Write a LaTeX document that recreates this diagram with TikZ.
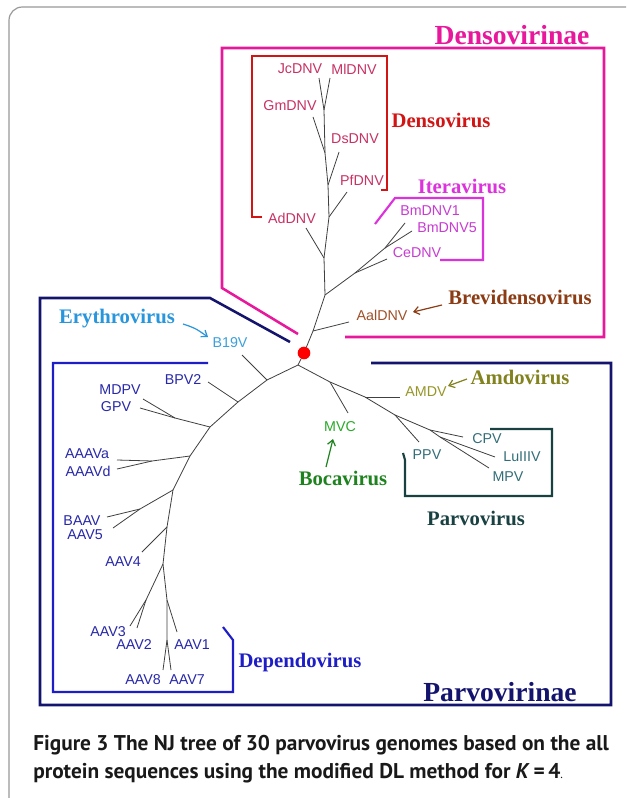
\documentclass[tikz,border=0pt]{standalone}
\usepackage{fontspec}
\setmainfont{Liberation Serif}
\setsansfont{Liberation Sans}
\newfontfamily\capfont{PT Sans}
\usetikzlibrary{arrows.meta}
\definecolor{cMag}{RGB}{232,24,156}
\definecolor{cNavy}{RGB}{20,20,110}
\definecolor{cBlue}{RGB}{30,30,200}
\definecolor{cRed}{RGB}{210,20,20}
\definecolor{cVio}{RGB}{220,50,220}
\definecolor{cSlate}{RGB}{25,65,65}
\definecolor{lDen}{RGB}{200,50,100}
\definecolor{lIte}{RGB}{200,60,210}
\definecolor{lBrev}{RGB}{160,80,40}
\definecolor{gBrev}{RGB}{140,60,20}
\definecolor{lEry}{RGB}{60,160,220}
\definecolor{gEry}{RGB}{40,150,220}
\definecolor{lDep}{RGB}{40,40,170}
\definecolor{lAmd}{RGB}{150,150,40}
\definecolor{gAmd}{RGB}{130,130,30}
\definecolor{lMvc}{RGB}{40,170,40}
\definecolor{gBoc}{RGB}{30,130,30}
\definecolor{lPar}{RGB}{50,110,120}
\begin{document}
\begin{tikzpicture}[x=0.75pt,y=-0.75pt,
  leaf/.style={font=\sffamily\fontsize{10.7}{12}\selectfont, inner sep=0pt},
  grp/.style={font=\bfseries\fontsize{15.5}{18}\selectfont, inner sep=0pt},
  big/.style={font=\bfseries\fontsize{20.7}{24}\selectfont, inner sep=0pt},
  br/.style={draw=black!75, line width=0.6pt},
  gbox/.style={line width=1.6pt, line join=miter},
  arr/.style={-{Straight Barb[length=4pt,width=6pt]}, line width=0.9pt},
  capt/.style={anchor=west, inner sep=0pt, font=\capfont\bfseries\fontsize{16}{18}\selectfont, text=black!90}]
\useasboundingbox (0,0) rectangle (626,798);
\fill[white] (0,0) rectangle (626,798);
\begin{scope}
\clip (0,0) rectangle (626,798);
\draw[black!40, line width=0.9pt, rounded corners=10pt] (9,7) rectangle (660,812);
\end{scope}

% group boxes
\draw[gbox, cMag, line width=1.9pt] (298,334) -- (222,288) -- (222,48) -- (604,48) -- (604,337) -- (345,337);
\draw[gbox, cNavy, line width=1.9pt] (290,342) -- (210,298) -- (40,298) -- (40,705) -- (611,705) -- (611,363) -- (371,363);
\draw[gbox, cBlue] (208,363) -- (53,363) -- (53,692) -- (233,692) -- (233,640) -- (223,627);
\draw[gbox, cRed] (262,217) -- (252,217) -- (252,56) -- (387,56) -- (387,190) -- (381,190);
\draw[gbox, cVio] (375,224) -- (395,198) -- (483,198) -- (483,260) -- (440,260);
\draw[gbox, cSlate] (490,429) -- (552,429) -- (552,496) -- (405,496) -- (405,460) -- (403,453);

% Densovirinae tree coordinates
\coordinate (dA) at (313,331);
\coordinate (aalE) at (349,322);
\coordinate (dB) at (325,295);
\coordinate (dC) at (355,273);
\coordinate (dD) at (385,248);
\coordinate (bmaE) at (405,223);
\coordinate (bmbE) at (412,231);
\coordinate (ceE) at (387,259);
\coordinate (t5) at (324,258);
\coordinate (adE) at (306,228);
\coordinate (t4) at (329,217);
\coordinate (pfE) at (347,192);
\coordinate (t3) at (328,185);
\coordinate (dsE) at (339,152);
\coordinate (t2) at (325,153);
\coordinate (gmE) at (313,117);
\coordinate (t1) at (324,110);
\coordinate (jcE) at (319,78);
\coordinate (mlE) at (330,78);

% Parvovirinae tree coordinates
\coordinate (pr) at (298,365);
\coordinate (l1) at (267,380);
\coordinate (l2) at (238,402);
\coordinate (l3) at (210,427);
\coordinate (l4) at (190,456);
\coordinate (l5) at (173,490);
\coordinate (l6) at (167,527);
\coordinate (l7) at (163,564);
\coordinate (bE) at (242,355);
\coordinate (bpE) at (208,382);
\coordinate (gJ) at (175,418);
\coordinate (gpE) at (140,408);
\coordinate (mdE) at (143,399);
\coordinate (aJ) at (152,461);
\coordinate (aaE) at (117,460);
\coordinate (adJE) at (117,469);
\coordinate (b5J) at (140,509);
\coordinate (baE) at (107,517);
\coordinate (a5E) at (113,528);
\coordinate (a4E) at (142,552);
\coordinate (a23J) at (146,600);
\coordinate (a3E) at (130,626);
\coordinate (a2E) at (137,628);
\coordinate (a1J) at (167,600);
\coordinate (a1E) at (177,632);
\coordinate (a78J) at (167,640);
\coordinate (a8E) at (163,670);
\coordinate (a7E) at (171,670);
\coordinate (q1) at (330,382);
\coordinate (q2) at (365,397);
\coordinate (q3) at (395,415);
\coordinate (q4) at (430,430);
\coordinate (q5) at (440,437);
\coordinate (mvE) at (348,413);
\coordinate (amE) at (400,397);
\coordinate (ppE) at (419,442);
\coordinate (cpE) at (463,437);
\coordinate (luE) at (495,457);
\coordinate (mpE) at (489,468);

\node (dot) [circle, fill=red, inner sep=0pt, minimum size=9.5pt] at (304,353) {};

% branches
\draw[br] (dot) -- (dA) -- (aalE);
\draw[br] (dA) -- (dB) -- (dC) -- (dD) -- (bmaE);
\draw[br] (dD) -- (bmbE);
\draw[br] (dC) -- (ceE);
\draw[br] (dB) -- (t5) -- (adE);
\draw[br] (t5) -- (t4) -- (pfE);
\draw[br] (t4) -- (t3) -- (dsE);
\draw[br] (t3) -- (t2) -- (gmE);
\draw[br] (t2) -- (t1) -- (jcE);
\draw[br] (t1) -- (mlE);

\draw[br] (dot) -- (pr) -- (l1) -- (l2) -- (l3) -- (l4) -- (l5) -- (l6) -- (l7);
\draw[br] (l1) -- (bE);
\draw[br] (l2) -- (bpE);
\draw[br] (l3) -- (gJ) -- (gpE);
\draw[br] (gJ) -- (mdE);
\draw[br] (l4) -- (aJ) -- (aaE);
\draw[br] (aJ) -- (adJE);
\draw[br] (l5) -- (b5J) -- (baE);
\draw[br] (b5J) -- (a5E);
\draw[br] (l6) -- (a4E);
\draw[br] (l7) -- (a23J) -- (a3E);
\draw[br] (a23J) -- (a2E);
\draw[br] (l7) -- (a1J) -- (a1E);
\draw[br] (a1J) -- (a78J) -- (a8E);
\draw[br] (a78J) -- (a7E);
\draw[br] (pr) -- (q1) -- (q2) -- (q3) -- (q4) -- (cpE);
\draw[br] (q1) -- (mvE);
\draw[br] (q2) -- (amE);
\draw[br] (q3) -- (ppE);
\draw[br] (q4) -- (q5) -- (luE);
\draw[br] (q5) -- (mpE);

% leaf labels
\node[leaf, lDen] (jc) at (300,69) {JcDNV};
\node[leaf, lDen] (ml) at (354,69) {MlDNV};
\node[leaf, lDen] (gm) at (290,106) {GmDNV};
\node[leaf, lDen] (ds) at (355,139) {DsDNV};
\node[leaf, lDen] (pf) at (362,180) {PfDNV};
\node[leaf, lDen] (ad) at (292,218) {AdDNV};
\node[leaf, lIte] (bm1) at (430,211) {BmDNV1};
\node[leaf, lIte] (bm5) at (447,228) {BmDNV5};
\node[leaf, lIte] (ce) at (417,253) {CeDNV};
\node[leaf, lBrev] (aal) at (382,315) {AalDNV};
\node[leaf, lEry] (b19) at (230,343) {B19V};
\node[leaf, lDep] (bpv) at (183,380) {BPV2};
\node[leaf, lDep] (mdpv) at (120,390) {MDPV};
\node[leaf, lDep] (gpv) at (116,407) {GPV};
\node[leaf, lDep] (aaava) at (87,454) {AAAVa};
\node[leaf, lDep] (aaavd) at (88,471) {AAAVd};
\node[leaf, lDep] (baav) at (82,521) {BAAV};
\node[leaf, lDep] (aav5) at (85,535) {AAV5};
\node[leaf, lDep] (aav4) at (123,562) {AAV4};
\node[leaf, lDep] (aav3) at (108,632) {AAV3};
\node[leaf, lDep] (aav2) at (134,645) {AAV2};
\node[leaf, lDep] (aav1) at (192,645) {AAV1};
\node[leaf, lDep] (aav8) at (143,680) {AAV8};
\node[leaf, lDep] (aav7) at (187,680) {AAV7};
\node[leaf, lAmd] (amdv) at (426,392) {AMDV};
\node[leaf, lMvc] (mvc) at (340,427) {MVC};
\node[leaf, lPar] (cpv) at (487,439) {CPV};
\node[leaf, lPar] (ppv) at (427,455) {PPV};
\node[leaf, lPar] (lu) at (522,457) {LuIIIV};
\node[leaf, lPar] (mpv) at (508,477) {MPV};

% group labels
\node[big, cMag] (densovirinae) at (512,35) {Densovirinae};
\node[big, cNavy] (parvovirinae) at (500,692) {Parvovirinae};
\node[grp, cRed] (densovirus) at (441,120) {Densovirus};
\node[grp, cVio] (iteravirus) at (462,186) {Iteravirus};
\node[grp, gBrev] (brevi) at (520,297) {Brevidensovirus};
\node[grp, gEry] (erythro) at (117,319) {Erythrovirus};
\node[grp, gAmd] (amdo) at (520,377) {Amdovirus};
\node[grp, gBoc] (boca) at (343,478) {Bocavirus};
\node[grp, cSlate] (parvo) at (476,518) {Parvovirus};
\node[grp, cBlue] (dependo) at (300,663) {Dependovirus};

% arrows
\coordinate (brT) at (442,305);
\coordinate (brH) at (413,312);
\coordinate (erT) at (183,324);
\coordinate (erH) at (208,337);
\coordinate (amT) at (467,379);
\coordinate (amH) at (448,386);
\coordinate (boT) at (326,467);
\coordinate (boH) at (333,439);
\draw[arr, gBrev] (brT) -- (brH);
\draw[arr, gEry] (erT) .. controls (195,328) .. (erH);
\draw[arr, gAmd] (amT) -- (amH);
\draw[arr, gBoc] (boT) -- (boH);

% caption
\node[capt] (cap1) at (33,745) {Figure 3 The NJ tree of 30 parvovirus genomes based on the all};
\node[capt] (cap2) at (33,773) {protein sequences using the modified DL method for \textit{K}\,=\,4{\mdseries\small.}};
\end{tikzpicture}
\end{document}
